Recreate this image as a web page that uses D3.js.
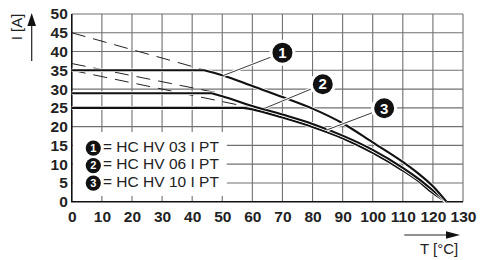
<!DOCTYPE html>
<html>
<head>
<meta charset="utf-8">
<script src="https://cdn.jsdelivr.net/npm/d3@7"></script>
<style>
  html, body { margin: 0; padding: 0; background: #fff; }
  svg { display: block; font-family: "Liberation Sans", Arial, sans-serif; }
</style>
</head>
<body>
<svg width="480" height="260"></svg>
<script>
// Значения
const xTicks = [0, 10, 20, 30, 40, 50, 60, 70, 80, 90, 100, 110, 120, 130];
const yTicks = [0, 5, 10, 15, 20, 25, 30, 35, 40, 45, 50];

// Кривые нагрузки [T, I]; первая пара точек - горизонтальный участок
const curve03 = [[0, 35], [44, 35], [50, 33.7], [60, 30.8], [70, 27.9], [80, 24.8], [90, 20.9],
    [100, 15.8], [110, 10.6], [115, 7.6], [120, 4.1], [124.5, 0]];
const curve06 = [[0, 28.9], [46.5, 28.9], [50, 28.1], [60, 25.5], [70, 23.2], [80, 20.7], [90, 17.6],
    [100, 13.8], [110, 9.0], [115, 6.2], [120, 3.0], [124.5, 0]];
const curve10 = [[0, 25], [57, 25], [60, 24.6], [70, 22.4], [80, 19.9], [90, 16.9],
    [100, 13.0], [110, 8.3], [115, 5.6], [120, 2.3], [124.5, 0]];

// Пунктирные продолжения
const dash03 = [[0, 45], [45, 34.9]];
const dash06 = [[0, 36.8], [49, 28.9]];
const dash10 = [[0, 35], [60, 25]];

// Выноски: центр кружка и точка на кривой
const callouts = [
    { num: "1", at: [70, 39.7], to: [50.3, 33.6] },
    { num: "2", at: [83.4, 31.3], to: [64.2, 24.9] },
    { num: "3", at: [103.8, 24.9], to: [84.7, 19.1] }
];

const legendNames = ["= HC HV 03 I PT", "= HC HV 06 I PT", "= HC HV 10 I PT"];

const svg = d3.select("svg");
const area = { left: 71.8, right: 463, top: 14, bottom: 201.7 };

const scaleX = d3.scaleLinear().domain([0, 130]).range([area.left, area.right]);
const scaleY = d3.scaleLinear().domain([0, 50]).range([area.bottom, area.top]);

// Сетка
const grid = svg.append("g").attr("stroke", "#707070").attr("stroke-width", 1.1);
grid.selectAll(".gx")
    .data(xTicks.slice(1))
    .enter()
    .append("line")
    .attr("x1", d => scaleX(d)).attr("x2", d => scaleX(d))
    .attr("y1", area.top).attr("y2", area.bottom);
grid.selectAll(".gy")
    .data(yTicks.slice(1))
    .enter()
    .append("line")
    .attr("x1", area.left).attr("x2", area.right)
    .attr("y1", d => scaleY(d)).attr("y2", d => scaleY(d));

// Белая подложка легенды
svg.append("rect")
    .attr("x", area.left + 1).attr("y", 132)
    .attr("width", 154).attr("height", 64)
    .attr("fill", "#fff");

// Оси
svg.append("line")
    .attr("x1", area.left).attr("x2", area.left)
    .attr("y1", area.top).attr("y2", area.bottom)
    .attr("stroke", "#111").attr("stroke-width", 1.6);
svg.append("line")
    .attr("x1", area.left - 0.8).attr("x2", area.right)
    .attr("y1", area.bottom).attr("y2", area.bottom)
    .attr("stroke", "#111").attr("stroke-width", 1.6);

const axisX = svg.append("g")
    .attr("transform", `translate(0, ${area.bottom})`)
    .call(d3.axisBottom(scaleX).tickValues(xTicks).tickSize(0).tickPadding(9));
const axisY = svg.append("g")
    .attr("transform", `translate(${area.left}, 0)`)
    .call(d3.axisLeft(scaleY).tickValues(yTicks).tickSize(0).tickPadding(4));
[axisX, axisY].forEach(ax => {
    ax.select(".domain").remove();
    ax.selectAll("text")
        .attr("fill", "#222")
        .style("font-family", "'Liberation Sans', Arial, sans-serif")
        .style("font-size", "15.5px")
        .style("font-weight", "bold");
});

// Пунктиры
const line = d3.line().x(d => scaleX(d[0])).y(d => scaleY(d[1]));
[dash03, dash06, dash10].forEach(d => {
    svg.append("path")
        .attr("d", line(d))
        .attr("fill", "none")
        .attr("stroke", "#222")
        .attr("stroke-width", 1)
        .attr("stroke-dasharray", "14,8");
});

// Кривые: прямой участок + плавный спад
const smooth = d3.line().x(d => scaleX(d[0])).y(d => scaleY(d[1])).curve(d3.curveMonotoneX);
function curvePath(pts) {
    return line(pts.slice(0, 2)) + smooth(pts.slice(1)).replace(/^M[^CL]*/, "L" + scaleX(pts[1][0]) + "," + scaleY(pts[1][1]));
}
[curve10, curve06, curve03].forEach(pts => {
    const d = curvePath(pts);
    svg.append("path").attr("d", d).attr("fill", "none")
        .attr("stroke", "#fff").attr("stroke-width", 3.6);
    svg.append("path").attr("d", d).attr("fill", "none")
        .attr("stroke", "#111").attr("stroke-width", 2.1);
});

// Выноски
callouts.forEach(c => {
    const x1 = scaleX(c.at[0]), y1 = scaleY(c.at[1]);
    const x2 = scaleX(c.to[0]), y2 = scaleY(c.to[1]);
    svg.append("line").attr("x1", x1).attr("y1", y1).attr("x2", x2).attr("y2", y2)
        .attr("stroke", "#fff").attr("stroke-width", 3);
    svg.append("line").attr("x1", x1).attr("y1", y1).attr("x2", x2).attr("y2", y2)
        .attr("stroke", "#222").attr("stroke-width", 0.9);
    svg.append("circle").attr("cx", x1).attr("cy", y1).attr("r", 11.5)
        .attr("fill", "#111").attr("stroke", "#fff").attr("stroke-width", 3);
    svg.append("text").attr("x", x1).attr("y", y1 + 5.3)
        .attr("text-anchor", "middle")
        .attr("fill", "#fff")
        .style("font-size", "15px")
        .style("font-weight", "bold")
        .text(c.num);
});

// Легенда
const legend = svg.append("g");
legendNames.forEach((name, i) => {
    const base = 151.7 + i * 17.5;
    legend.append("circle").attr("cx", 93.3).attr("cy", base - 3.6).attr("r", 7.6).attr("fill", "#111");
    legend.append("text").attr("x", 93.3).attr("y", base)
        .attr("text-anchor", "middle").attr("fill", "#fff")
        .style("font-size", "11px").style("font-weight", "bold")
        .text(String(i + 1));
    legend.append("text").attr("x", 103).attr("y", base)
        .attr("fill", "#222")
        .style("font-size", "15.5px")
        .text(name);
});

// Подписи осей со стрелками
svg.append("text")
    .attr("transform", "translate(21.5, 27) rotate(-90)")
    .attr("text-anchor", "middle")
    .attr("fill", "#222")
    .style("font-size", "15px")
    .text("I [A]");
svg.append("line").attr("x1", 31.7).attr("x2", 31.7).attr("y1", 61).attr("y2", 24)
    .attr("stroke", "#222").attr("stroke-width", 1.2);
svg.append("path").attr("d", "M31.7,13 L27.4,26 L36,26 Z").attr("fill", "#111");

svg.append("text")
    .attr("x", 420).attr("y", 253.5)
    .attr("fill", "#222")
    .style("font-size", "15px")
    .text("T [°C]");
svg.append("line").attr("x1", 404.3).attr("x2", 448).attr("y1", 235).attr("y2", 235)
    .attr("stroke", "#222").attr("stroke-width", 1.2);
svg.append("path").attr("d", "M460,235 L446,231.3 L446,238.7 Z").attr("fill", "#111");
</script>
</body>
</html>
